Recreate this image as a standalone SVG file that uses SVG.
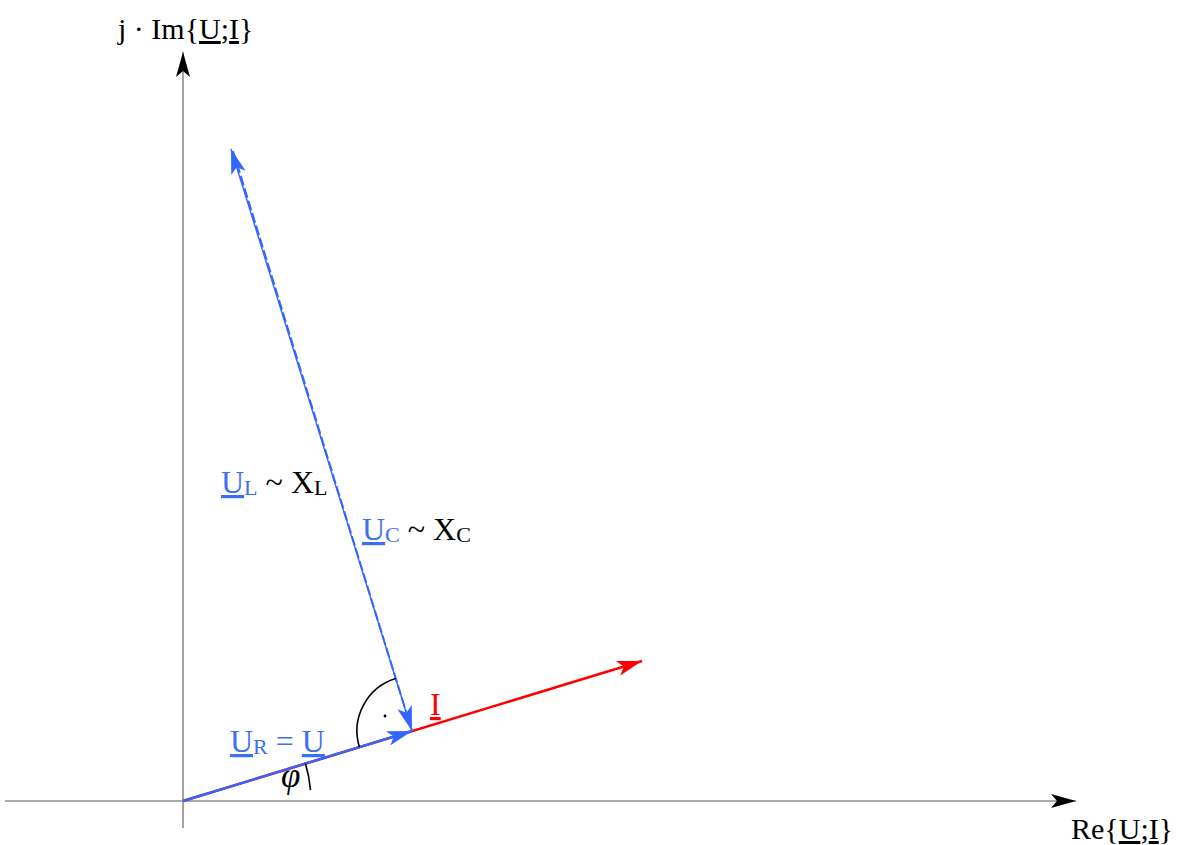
<svg xmlns="http://www.w3.org/2000/svg" width="1178" height="845" viewBox="0 0 1178 845">
<style>
.ax{stroke:#8c8c8c;stroke-width:1.6;fill:none}
.txt{font-family:"Liberation Serif","Times New Roman",serif;fill:#000}
.blue{fill:#3d6ff2}
.red{fill:#ff0000}
.ul{text-decoration:underline}
</style>
<defs>
<marker id="ak" viewBox="-27 -10 29 20" markerWidth="29" markerHeight="20" refX="0" refY="0" orient="auto" markerUnits="userSpaceOnUse">
<path d="M0,0 L-25,-7 L-19,0 L-25,7 Z" fill="#000"/>
</marker>
<marker id="ar" viewBox="-27 -10 29 20" markerWidth="29" markerHeight="20" refX="0" refY="0" orient="auto" markerUnits="userSpaceOnUse">
<path d="M0,0 L-25,-7.5 L-19,0 L-25,7.5 Z" fill="#ff0000"/>
</marker>
<marker id="ab" viewBox="-27 -10 29 20" markerWidth="29" markerHeight="20" refX="0" refY="0" orient="auto" markerUnits="userSpaceOnUse">
<path d="M0,0 L-25,-7.5 L-19,0 L-25,7.5 Z" fill="#3366ff"/>
</marker>
</defs>
<g id="axes">
<line class="ax" x1="5" y1="801" x2="1076" y2="801" marker-end="url(#ak)"/>
<line class="ax" x1="183" y1="828" x2="183" y2="52" marker-end="url(#ak)"/>
</g>
<g id="connectors">
<line id="I" x1="183" y1="801" x2="642" y2="661" stroke="#ff0000" stroke-width="2.6" marker-end="url(#ar)"/>
<line id="UR" x1="183" y1="801" x2="412" y2="731" stroke="#3366ff" stroke-width="2.4" marker-end="url(#ab)"/>
<line id="UL" x1="412" y1="731" x2="231" y2="149" stroke="#3366ff" stroke-width="1.4" marker-end="url(#ab)"/>
<line id="UC" x1="233" y1="151" x2="412" y2="731" stroke="#3366ff" stroke-width="2" stroke-dasharray="10,3" marker-end="url(#ab)"/>
</g>
<g id="angles" fill="none" stroke="#000" stroke-width="1.6">
<path d="M359.4,747.1 A55,55 0 0 1 395.6,678.5"/>
<path d="M305.4,763.6 A128,128 0 0 1 310.5,790.1"/>
</g>
<circle cx="385" cy="716" r="1.4" fill="#000"/>
<g id="labels">
<text class="txt" x="118" y="39" font-size="30">j · Im{<tspan class="ul">U</tspan>;<tspan class="ul">I</tspan>}</text>
<text class="txt" x="1071" y="839" font-size="30">Re{<tspan class="ul">U</tspan>;<tspan class="ul">I</tspan>}</text>
<text class="txt" x="221" y="493" font-size="32"><tspan class="blue ul">U</tspan><tspan class="blue" font-size="22" dy="2">L</tspan><tspan dy="-2"> ~ X</tspan><tspan font-size="22" dy="2">L</tspan></text>
<text class="txt" x="362" y="540" font-size="32"><tspan class="blue ul">U</tspan><tspan class="blue" font-size="22" dy="2">C</tspan><tspan dy="-2"> ~ X</tspan><tspan font-size="22" dy="2">C</tspan></text>
<text class="txt blue" x="230" y="752" font-size="32"><tspan class="ul">U</tspan><tspan font-size="22" dy="2">R</tspan><tspan dy="-2"> = </tspan><tspan class="ul">U</tspan></text>
<text class="txt red" x="430" y="715" font-size="32"><tspan class="ul">I</tspan></text>
<text class="txt" x="281" y="787" font-size="35" font-style="italic">φ</text>
</g>
</svg>
